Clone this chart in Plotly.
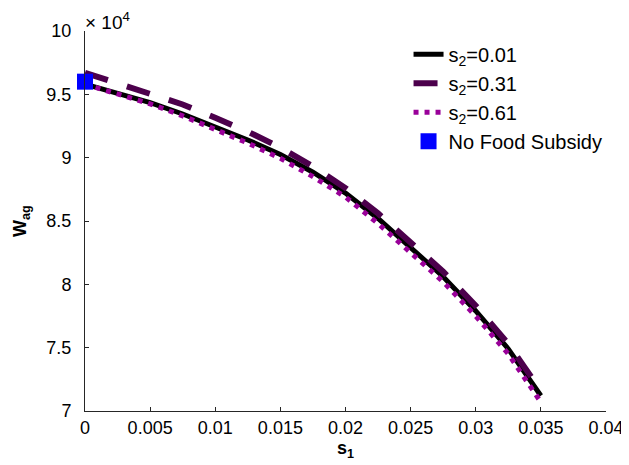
import plotly.graph_objects as go

# s1 values (food subsidy rate)
s1 = [0.0, 0.0025, 0.005, 0.0075, 0.01, 0.0125, 0.015, 0.0175, 0.02,
      0.0225, 0.025, 0.0275, 0.03, 0.0325, 0.035]

# W_ag in units of 10^4
w_s2_001 = [9.58, 9.51, 9.435, 9.345, 9.245, 9.14, 9.025, 8.885, 8.72,
            8.52, 8.29, 8.06, 7.79, 7.49, 7.12]
w_s2_031 = [9.67, 9.59, 9.51, 9.42, 9.315, 9.205, 9.08, 8.93, 8.76,
            8.56, 8.33, 8.10, 7.83, 7.53, 7.16]
w_s2_061 = [9.58, 9.505, 9.425, 9.33, 9.225, 9.115, 8.995, 8.85, 8.69,
            8.48, 8.25, 8.02, 7.75, 7.45, 7.07]

nfs_x = [0.0]
nfs_y = [9.6]

x_ticks = [0, 0.005, 0.01, 0.015, 0.02, 0.025, 0.03, 0.035, 0.04]
x_ticktext = ["0", "0.005", "0.01", "0.015", "0.02", "0.025", "0.03", "0.035", "0.04"]
y_ticks = [7, 7.5, 8, 8.5, 9, 9.5, 10]
y_ticktext = ["7", "7.5", "8", "8.5", "9", "9.5", "10"]

FONT = "Liberation Sans, Arial, Helvetica, sans-serif"

fig = go.Figure()
fig.add_trace(go.Scatter(x=s1, y=w_s2_001, mode="lines", name="s<sub>2</sub>=0.01",
                         line=dict(color="black", width=5)))
fig.add_trace(go.Scatter(x=s1, y=w_s2_031, mode="lines", name="s<sub>2</sub>=0.31",
                         line=dict(color="#4c004c", width=6, dash="24px,20px")))
fig.add_trace(go.Scatter(x=s1, y=w_s2_061, mode="lines", name="s<sub>2</sub>=0.61",
                         line=dict(color="#990099", width=5, dash="5px,6px")))
fig.add_trace(go.Scatter(x=nfs_x, y=nfs_y, mode="markers", name="No Food Subsidy",
                         marker=dict(color="#0000ff", size=16, symbol="square",
                                     line=dict(width=0)),
                         cliponaxis=False))

fig.update_layout(
    width=621, height=457,
    margin=dict(l=77, r=23, t=23, b=54),
    plot_bgcolor="white", paper_bgcolor="white",
    font=dict(family=FONT, size=18, color="black"),
    showlegend=True,
    legend=dict(x=0.621, y=0.99, xanchor="left", yanchor="top",
                bgcolor="rgba(0,0,0,0)", font=dict(size=20, family=FONT),
                tracegroupgap=0),
    xaxis=dict(range=[0, 0.04], tickvals=x_ticks, ticktext=x_ticktext,
               ticks="inside", ticklen=4, tickcolor="#262626",
               showline=True, linecolor="#262626", linewidth=1,
               showgrid=False, zeroline=False, automargin=False),
    yaxis=dict(range=[7, 10], tickvals=y_ticks, ticktext=y_ticktext,
               ticks="inside", ticklen=4, tickcolor="#262626",
               showline=True, linecolor="#262626", linewidth=1,
               showgrid=False, zeroline=False, ticklabelstandoff=9, automargin=False),
)

# axis titles
fig.add_annotation(text="<b>s<sub>1</sub></b>", xref="paper", yref="paper",
                   x=0.5, y=-0.1, xanchor="center", yanchor="middle",
                   showarrow=False, font=dict(size=18, family=FONT))
fig.add_annotation(text="<b>W<sub>ag</sub></b>", xref="paper", yref="paper",
                   x=-0.123, y=0.5, xanchor="center", yanchor="middle", textangle=-90,
                   showarrow=False, font=dict(size=18, family=FONT))
# exponent
fig.add_annotation(text="× 10<sup>4</sup>", xref="paper", yref="paper",
                   x=-0.004, y=1.0, xanchor="left", yanchor="bottom", yshift=-4,
                   showarrow=False, font=dict(size=19, family=FONT))

fig.write_html("out.html")
